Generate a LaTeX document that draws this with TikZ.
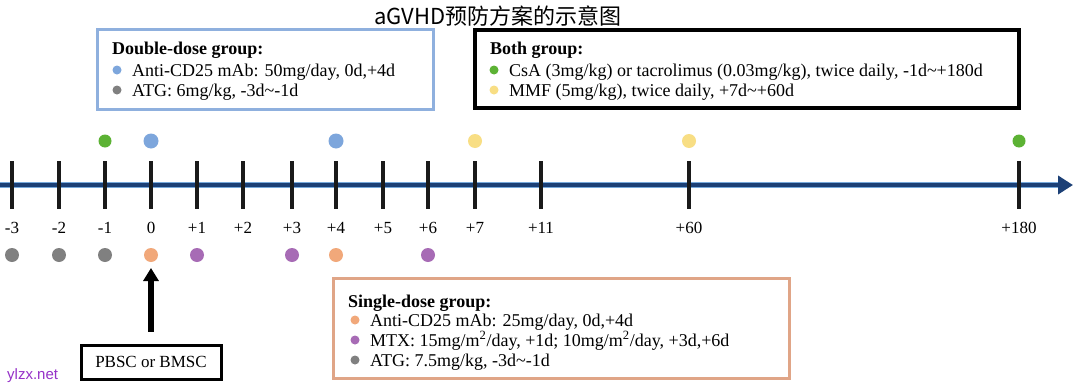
\documentclass[tikz,border=0pt]{standalone}
\usepackage{fontspec}
\setmainfont{Liberation Serif}
\newfontfamily\cjkfont{Noto Sans CJK SC}
\newfontfamily\wmfont{Liberation Sans}
\usetikzlibrary{arrows.meta}
\definecolor{cblue}{RGB}{125,166,220}
\definecolor{cgreen}{RGB}{92,178,52}
\definecolor{cyellow}{RGB}{248,222,132}
\definecolor{cgray}{RGB}{128,128,128}
\definecolor{corange}{RGB}{241,168,122}
\definecolor{cpurple}{RGB}{167,107,181}
\definecolor{bblue}{RGB}{143,176,222}
\definecolor{borange}{RGB}{224,165,135}
\definecolor{axnavy}{RGB}{28,64,118}
\definecolor{axlight}{RGB}{120,170,220}
\definecolor{tickc}{RGB}{26,26,26}
\definecolor{wmc}{RGB}{150,50,200}
\begin{document}
\begin{tikzpicture}[x=1pt,y=-1pt,
  txt/.style={anchor=base west, inner sep=0, font=\fontsize{18}{20}\selectfont},
  hdr/.style={anchor=base west, inner sep=0, font=\fontsize{18}{20}\selectfont\bfseries},
  ldot/.style={circle, inner sep=0, minimum size=9pt, fill=#1},
  tdot/.style={circle, inner sep=0, minimum size=14pt, fill=#1},
  tickline/.style={line width=4pt, draw=tickc},
  tlab/.style={font=\fontsize{17}{17}\selectfont, inner sep=0, anchor=base},
  legbox/.style={draw=#1, rectangle, inner sep=0, fill=white},
]
\useasboundingbox (0,0) rectangle (1080,391);
\fill[white] (0,0) rectangle (1080,391);

% title
\node[font=\cjkfont\fontsize{22}{22}\selectfont, inner sep=0] (title) at (498,16) {aGVHD预防方案的示意图};

% legend boxes
\node[legbox=bblue, line width=3pt, minimum width=336pt, minimum height=80pt] (bluebox) at (265,69) {};
\node[hdr] (bh) at (112,54) {Double-dose group:};
\node[ldot=cblue] (bd1) at (117,70) {};
\node[txt] (bt1) at (132,76) {Anti-CD25 mAb: 50mg/day, 0d,+4d};
\node[ldot=cgray] (bd2) at (117,90) {};
\node[txt] (bt2) at (132,96) {ATG: 6mg/kg, -3d\textasciitilde-1d};

\node[legbox=black, line width=4pt, minimum width=544pt, minimum height=78pt] (blackbox) at (747,69) {};
\node[hdr] (kh) at (490,54) {Both group:};
\node[ldot=cgreen] (kd1) at (494,70) {};
\node[txt] (kt1) at (509,76) {CsA (3mg/kg) or tacrolimus (0.03mg/kg), twice daily, -1d\textasciitilde+180d};
\node[ldot=cyellow] (kd2) at (494,90) {};
\node[txt] (kt2) at (509,96) {MMF (5mg/kg), twice daily, +7d\textasciitilde+60d};

\node[legbox=borange, line width=3pt, minimum width=456pt, minimum height=100pt] (orangebox) at (561,328) {};
\node[hdr] (oh) at (348,307) {Single-dose group:};
\node[ldot=corange] (od1) at (355,320) {};
\node[txt] (ot1) at (370,326) {Anti-CD25 mAb: 25mg/day, 0d,+4d};
\node[ldot=cpurple] (od2) at (355,340) {};
\node[txt] (ot2) at (370,346) {MTX: 15mg/m\textsuperscript{2}/day, +1d; 10mg/m\textsuperscript{2}/day, +3d,+6d};
\node[ldot=cgray] (od3) at (355,360) {};
\node[txt] (ot3) at (370,366) {ATG: 7.5mg/kg, -3d\textasciitilde-1d};

% axis
\coordinate (axs) at (0,185);
\coordinate (axm) at (1060,185);
\coordinate (axe) at (1073,185);
\draw[line width=6.5pt, axlight] (axs) -- (axm);
\draw[line width=4.5pt, axnavy, -{Triangle[length=15pt,width=18pt]}] (axs) -- (axe);

% ticks and labels
\foreach \xx/\lab/\nm in {12/-3/m3, 59/-2/m2, 105/-1/m1, 151/0/z0, 197/+1/p1, 243/+2/p2, 292/+3/p3, 336/+4/p4, 383/+5/p5, 428/+6/p6, 475/+7/p7, 541/+11/p11, 689/+60/p60, 1019/+180/p180}{
  \draw[tickline] (\xx,161) -- (\xx,209);
  \node[tlab] (lab\nm) at (\xx,233) {\lab};
}

% top dots
\node[tdot=cgreen, minimum size=13pt] (tg1) at (105,141) {};
\node[tdot=cblue, minimum size=15pt] (tb1) at (151,141) {};
\node[tdot=cblue, minimum size=15pt] (tb2) at (336,141) {};
\node[tdot=cyellow] (ty1) at (475,141) {};
\node[tdot=cyellow] (ty2) at (689,141) {};
\node[tdot=cgreen, minimum size=13pt] (tg2) at (1019,141) {};

% bottom dots
\node[tdot=cgray] (bg1) at (12,255) {};
\node[tdot=cgray] (bg2) at (59,255) {};
\node[tdot=cgray] (bg3) at (105,255) {};
\node[tdot=corange] (bo1) at (151,255) {};
\node[tdot=cpurple] (bp1) at (197,255) {};
\node[tdot=cpurple] (bp2) at (292,255) {};
\node[tdot=corange] (bo2) at (336,255) {};
\node[tdot=cpurple] (bp3) at (428,255) {};

% PBSC box and arrow
\node[draw=black, line width=3pt, minimum width=140pt, minimum height=34pt, inner sep=0, font=\fontsize{17}{17}\selectfont] (pbsc) at (151,362) {PBSC or BMSC};
\coordinate (arrtip) at (151,268);
\draw[line width=5.5pt, -{Triangle[length=13pt,width=15pt]}, shorten <=12pt] (pbsc.north) -- (arrtip);

% watermark
\node[font=\wmfont\fontsize{15}{15}\selectfont, text=wmc, anchor=west, inner sep=0] (wm) at (7,376) {ylzx.net};
\end{tikzpicture}
\end{document}
